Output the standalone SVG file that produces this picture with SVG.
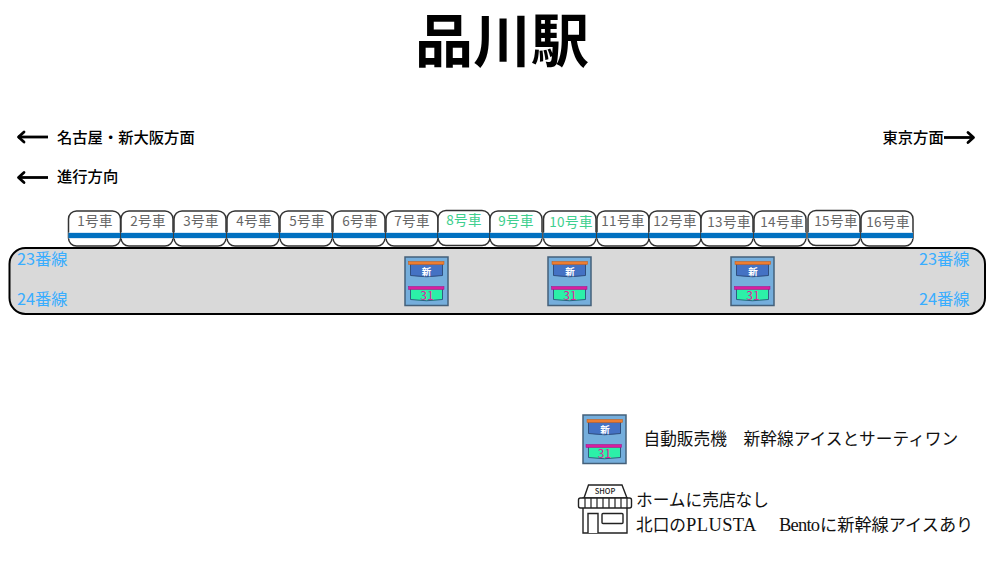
<svg xmlns="http://www.w3.org/2000/svg" width="1000" height="562" viewBox="0 0 1000 562">
<style>
text{font-family:"Noto Sans CJK JP",sans-serif}
.title{font-size:58px;font-weight:700;fill:#000;text-anchor:middle}
.dir{font-size:15.300px;font-weight:500;fill:#000}
.car rect.b{fill:#fff;stroke:#333;stroke-width:1.500}
.car rect.s{fill:#0070c0}
.car rect.h{fill:#bdd7ee;opacity:.6}
.car text{font-size:13.500px;fill:#666;text-anchor:middle;letter-spacing:.4px}
.car text.g{fill:#3ecf8e}
.track{font-size:16.300px;fill:#38adff}
.leg{font-size:16.700px;fill:#111}
.lat{font-family:"Liberation Serif",serif;font-size:18.500px}
.m0{fill:#75aedc;stroke:#44607a;stroke-width:1.500}
.m1{fill:#4472c4;stroke:#2f4f7f;stroke-width:1}
.m2{fill:#ed7d31;stroke:#c55a11;stroke-width:.5}
.m3{fill:#2cf0a8;stroke:#2f5f7f;stroke-width:1}
.m4{fill:#d81ea0;stroke:#a01080;stroke-width:.5}
.mt{font-size:9.500px;font-weight:700;fill:#fff;text-anchor:middle}
.mn{font-size:12px;fill:#e0209c;text-anchor:middle}
.shop{fill:#fff;stroke:#222;stroke-width:1.400}
.line{stroke:#000;stroke-width:2.800;fill:none}
.head{fill:none;stroke:#000;stroke-width:2.800;stroke-linecap:round;stroke-linejoin:round}
</style>
<text class="title" x="502" y="62">品川駅</text>

<g id="connectors">
<path class="line" d="M18 137H48"/><path class="head" d="M24 132L18.500 137L24 142"/>
<path class="line" d="M18 177.500H48"/><path class="head" d="M24 172.500L18.500 177.500L24 182.500"/>
<path class="line" d="M944 137.500H974"/><path class="head" d="M968 132.500L973.500 137.500L968 142.500"/>
</g>

<g id="labels">
<text class="dir" x="57" y="143">名古屋・新大阪方面</text>
<text class="dir" x="57" y="182">進行方向</text>
<text class="dir" x="882.500" y="143">東京方面</text>
</g>

<g id="platform">
<rect x="9.500" y="248" width="975.500" height="66" rx="16" fill="#d9d9d9" stroke="#000" stroke-width="2"/>
<text class="track" x="17" y="265">23番線</text>
<text class="track" x="17" y="305">24番線</text>
<text class="track" x="919" y="265">23番線</text>
<text class="track" x="919" y="305">24番線</text>
</g>

<g id="car1" class="car"><rect class="b" x="68.500" y="211" width="52" height="35" rx="8"/><rect class="h" x="68.500" y="232" width="52" height="7"/><rect class="s" x="68.500" y="233" width="52" height="5"/><text x="95" y="226">1号車</text></g>
<g id="car2" class="car"><rect class="b" x="121" y="211" width="52" height="35" rx="8"/><rect class="h" x="121" y="232" width="52" height="7"/><rect class="s" x="121" y="233" width="52" height="5"/><text x="148" y="226">2号車</text></g>
<g id="car3" class="car"><rect class="b" x="174" y="211" width="52" height="35" rx="8"/><rect class="h" x="174" y="232" width="52" height="7"/><rect class="s" x="174" y="233" width="52" height="5"/><text x="201" y="226">3号車</text></g>
<g id="car4" class="car"><rect class="b" x="227" y="211" width="52" height="35" rx="8"/><rect class="h" x="227" y="232" width="52" height="7"/><rect class="s" x="227" y="233" width="52" height="5"/><text x="254" y="226">4号車</text></g>
<g id="car5" class="car"><rect class="b" x="280" y="211" width="52" height="35" rx="8"/><rect class="h" x="280" y="232" width="52" height="7"/><rect class="s" x="280" y="233" width="52" height="5"/><text x="307" y="226">5号車</text></g>
<g id="car6" class="car"><rect class="b" x="333" y="211" width="52" height="35" rx="8"/><rect class="h" x="333" y="232" width="52" height="7"/><rect class="s" x="333" y="233" width="52" height="5"/><text x="360" y="226">6号車</text></g>
<g id="car7" class="car"><rect class="b" x="386" y="211" width="52" height="35" rx="8"/><rect class="h" x="386" y="232" width="52" height="7"/><rect class="s" x="386" y="233" width="52" height="5"/><text x="412" y="226">7号車</text></g>
<g id="car8" class="car"><rect class="b" x="438" y="210.500" width="52" height="35" rx="8"/><rect class="h" x="438" y="232" width="52" height="6"/><rect class="s" x="438" y="233" width="52" height="5"/><text class="g" x="464" y="225">8号車</text></g>
<g id="car9" class="car"><rect class="b" x="490" y="211" width="52" height="35" rx="8"/><rect class="h" x="490" y="232" width="52" height="7"/><rect class="s" x="490" y="233" width="52" height="5"/><text class="g" x="516" y="226">9号車</text></g>
<g id="car10" class="car"><rect class="b" x="543.500" y="211" width="52.500" height="35" rx="8"/><rect class="h" x="543.500" y="232" width="52.500" height="7"/><rect class="s" x="543.500" y="233" width="52.500" height="5"/><text class="g" x="571" y="227">10号車</text></g>
<g id="car11" class="car"><rect class="b" x="597" y="211" width="52" height="35" rx="8"/><rect class="h" x="597" y="232" width="52" height="7"/><rect class="s" x="597" y="233" width="52" height="5"/><text x="623" y="226">11号車</text></g>
<g id="car12" class="car"><rect class="b" x="649" y="211" width="52" height="35" rx="8"/><rect class="h" x="649" y="232" width="52" height="7"/><rect class="s" x="649" y="233" width="52" height="5"/><text x="675" y="226">12号車</text></g>
<g id="car13" class="car"><rect class="b" x="701" y="211" width="52" height="35" rx="8"/><rect class="h" x="701" y="232" width="52" height="7"/><rect class="s" x="701" y="233" width="52" height="5"/><text x="729" y="227">13号車</text></g>
<g id="car14" class="car"><rect class="b" x="754" y="211" width="52" height="35" rx="8"/><rect class="h" x="754" y="232" width="52" height="7"/><rect class="s" x="754" y="233" width="52" height="5"/><text x="782" y="227">14号車</text></g>
<g id="car15" class="car"><rect class="b" x="808" y="210.500" width="52" height="35" rx="8"/><rect class="h" x="808" y="232" width="52" height="7"/><rect class="s" x="808" y="233" width="52" height="5"/><text x="836" y="226">15号車</text></g>
<g id="car16" class="car"><rect class="b" x="861" y="211" width="52" height="35" rx="8"/><rect class="h" x="861" y="232" width="52" height="7"/><rect class="s" x="861" y="233" width="52" height="5"/><text x="888" y="227">16号車</text></g>

<g id="vending1" transform="translate(405 257)">
<rect class="m0" width="43" height="48.500"/>
<path class="m1" d="M5.500 6H37.500V18.500Q21.500 21 5.500 18.500Z"/><rect class="m2" x="3.500" y="4.500" width="35.500" height="3"/><text class="mt" x="21.500" y="18">新</text>
<path class="m3" d="M5.500 31H37.500V42.500Q21.500 45 5.500 42.500Z"/><rect class="m4" x="3.500" y="29.500" width="35.500" height="3"/><text class="mn" x="22" y="43">31</text>
</g>
<g id="vending2" transform="translate(548 257)">
<rect class="m0" width="43" height="48.500"/>
<path class="m1" d="M5.500 6H37.500V18.500Q21.500 21 5.500 18.500Z"/><rect class="m2" x="4" y="4.500" width="35.500" height="3"/><text class="mt" x="22" y="18">新</text>
<path class="m3" d="M5.500 31H37.500V42.500Q21.500 45 5.500 42.500Z"/><rect class="m4" x="3.500" y="29.500" width="35.500" height="3"/><text class="mn" x="22" y="43">31</text>
</g>
<g id="vending3" transform="translate(731 257)">
<rect class="m0" width="43" height="48.500"/>
<path class="m1" d="M5.500 6H37.500V18.500Q21.500 21 5.500 18.500Z"/><rect class="m2" x="4" y="4.500" width="35.500" height="3"/><text class="mt" x="22" y="18">新</text>
<path class="m3" d="M5.500 31H37.500V42.500Q21.500 45 5.500 42.500Z"/><rect class="m4" x="3.500" y="29.500" width="35.500" height="3"/><text class="mn" x="22" y="43">31</text>
</g>

<g id="legend-vending" transform="translate(583 415)">
<rect class="m0" width="43" height="48.500"/>
<path class="m1" d="M5.500 6H37.500V18.500Q21.500 21 5.500 18.500Z"/><rect class="m2" x="4" y="4.500" width="35.500" height="3"/><text class="mt" x="22" y="18">新</text>
<path class="m3" d="M5.500 31H37.500V42.500Q21.500 45 5.500 42.500Z"/><rect class="m4" x="3" y="29.500" width="35.500" height="3"/><text class="mn" x="21.500" y="43">31</text>
</g>
<text class="leg" x="643.500" y="444.500">自動販売機　新幹線アイスとサーティワン</text>

<g id="legend-shop">
<path class="shop" d="M583 498V533H627V498Z"/>
<path class="shop" d="M584 498L588.500 485H622L627 498Z"/>
<text x="605" y="494" font-size="7.500" font-weight="500" text-anchor="middle" fill="#222">SHOP</text>
<rect class="shop" x="578.500" y="498" width="53" height="10" rx="2"/>
<path d="M585 498V508M591 498V508M597 498V508M603 498V508M609 498V508M615 498V508M621 498V508M627 498V508" stroke="#222" stroke-width="1.200" fill="none"/>
<path class="shop" d="M588 533V513.500H598V533"/>
<rect class="shop" x="602" y="513.500" width="21" height="10" rx="1"/>
</g>
<text class="leg" x="636" y="505.500">ホームに売店なし</text>
<text class="leg" x="636" y="530.500">北口の<tspan class="lat" x="686" letter-spacing=".4">PLUSTA</tspan><tspan class="lat" x="779" letter-spacing="-.8">Bento</tspan><tspan x="820" font-size="17.200">に新幹線アイスあり</tspan></text>
</svg>
